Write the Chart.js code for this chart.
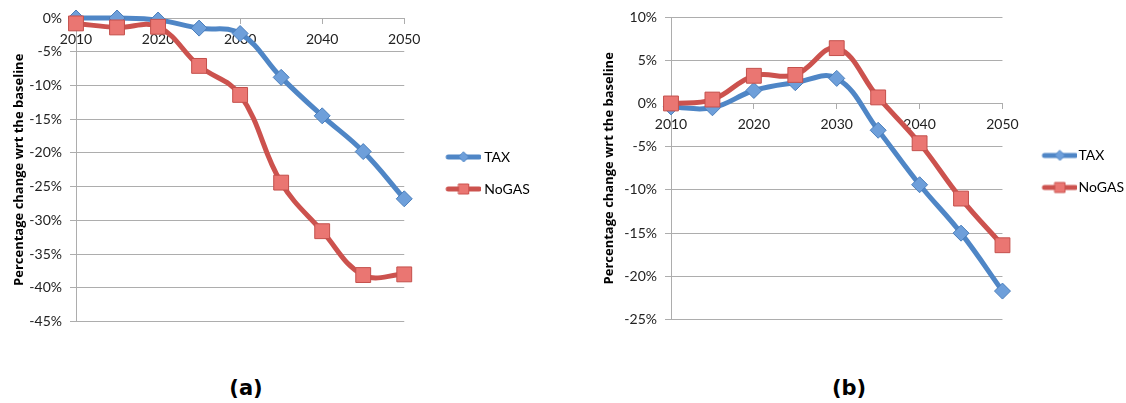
<!DOCTYPE html>
<html>
<head>
<meta charset="utf-8">
<script src="https://cdn.jsdelivr.net/npm/chart.js@4/dist/chart.umd.min.js"></script>
<style>
  body { margin: 0; background: #fff; width: 1126px; height: 403px; position: relative; overflow: hidden; }
  .wrap { position: absolute; top: 0; }
  .cap { position: absolute; font-family: "DejaVu Sans", sans-serif; font-weight: bold; font-size: 21px; color: #000; transform: translate(-50%, -50%); }
</style>
</head>
<body>
<div class="wrap" style="left:0px"><canvas id="chartA" width="539" height="338"></canvas></div>
<div class="wrap" style="left:590px"><canvas id="chartB" width="544" height="336"></canvas></div>
<div class="cap" style="left:246px; top:388px">(a)</div>
<div class="cap" style="left:849px; top:388px">(b)</div>
<script>
// years on the x axis
const years = ['2010', '2015', '2020', '2025', '2030', '2035', '2040', '2045', '2050'];

// panel (a), % change wrt the baseline
const taxA = [0, 0, -0.3, -1.5, -2.3, -8.8, -14.5, -19.8, -26.8];
const noGasA = [-0.8, -1.4, -1.3, -7.1, -11.4, -24.4, -31.6, -38.1, -38.0];

// panel (b)
const taxB = [-0.4, -0.5, 1.5, 2.4, 2.9, -3.1, -9.4, -15.0, -21.7];
const noGasB = [0, 0.45, 3.2, 3.3, 6.4, 0.7, -4.6, -11.0, -16.4];

const blue = '#4F86C6';
const blueFill = '#6E9FDA';
const red = '#CC524E';
const redFill = '#EA7672';
const gridGray = '#ADADAD';
const tickFont = { family: 'Lato', size: 14 };

// legend symbol: line with marker in the middle, left part left empty
function legendIcon(color, fill, shape) {
  const c = document.createElement('canvas');
  c.width = 63; c.height = 16;
  const g = c.getContext('2d');
  g.strokeStyle = color;
  g.lineWidth = 5;
  g.lineCap = 'round';
  g.beginPath(); g.moveTo(30, 8); g.lineTo(61, 8); g.stroke();
  g.fillStyle = fill;
  g.strokeStyle = color;
  g.lineWidth = 1;
  g.beginPath();
  if (shape === 'diamond') {
    g.moveTo(45.5, 3); g.lineTo(50.5, 8); g.lineTo(45.5, 13); g.lineTo(40.5, 8); g.closePath();
  } else {
    g.rect(40.5, 3, 10, 10);
  }
  g.fill(); g.stroke();
  return c;
}
const taxIcon = legendIcon(blue, blueFill, 'diamond');
const gasIcon = legendIcon(red, redFill, 'square');

function makeChart(el, taxData, gasData, yMin, yMax, axisWidth, padTop, boxW) {
  return new Chart(el, {
    type: 'line',
    data: {
      labels: years,
      datasets: [{
        label: 'TAX',
        data: taxData,
        borderColor: blue,
        borderWidth: 5,
        tension: 0.4,
        pointStyle: 'rectRot',
        pointRadius: 8,
        pointBackgroundColor: blueFill,
        pointBorderColor: '#4A7EBB',
        pointBorderWidth: 1,
        clip: false,
        order: 1
      }, {
        label: 'NoGAS',
        data: gasData,
        borderColor: red,
        borderWidth: 5,
        tension: 0.4,
        pointStyle: 'rect',
        pointRadius: 10.5,
        pointBackgroundColor: redFill,
        pointBorderColor: '#C4504C',
        pointBorderWidth: 1,
        clip: false,
        order: 0
      }]
    },
    options: {
      responsive: false,
      animation: false,
      layout: { padding: { top: padTop, bottom: 10, left: 0, right: 0 } },
      plugins: {
        tooltip: { enabled: false },
        legend: {
          position: 'right',
          labels: {
            usePointStyle: true,
            pointStyleWidth: boxW,
            padding: 18,
            color: '#000',
            font: tickFont,
            sort: (a, b) => a.datasetIndex - b.datasetIndex,
            generateLabels: (chart) => [
              { text: 'TAX', pointStyle: taxIcon, datasetIndex: 0, fontColor: '#000', lineWidth: 0 },
              { text: 'NoGAS', pointStyle: gasIcon, datasetIndex: 1, fontColor: '#000', lineWidth: 0 }
            ]
          }
        }
      },
      scales: {
        x: {
          position: { y: 0 },
          offset: false,
          grid: {
            drawOnChartArea: false,
            tickLength: 5,
            color: (ctx) => ctx.index % 2 === 0 ? gridGray : 'rgba(0,0,0,0)'
          },
          border: { color: gridGray },
          ticks: {
            autoSkip: false,
            maxRotation: 0,
            padding: 8,
            color: '#222',
            font: tickFont,
            callback: (v, i) => i % 2 === 0 ? years[i] : ''
          }
        },
        y: {
          min: yMin,
          max: yMax,
          afterFit: (s) => { s.width = axisWidth; },
          grid: { color: gridGray, tickLength: 6 },
          border: { color: gridGray },
          ticks: {
            stepSize: 5,
            padding: 8,
            color: '#222',
            font: tickFont,
            callback: (v) => v + '%'
          },
          title: {
            display: true,
            text: 'Percentage change wrt the baseline',
            color: '#000',
            font: { family: 'Open Sans', size: 13, weight: 'bold' },
            padding: { top: 11, bottom: 0 }
          }
        }
      }
    }
  });
}

makeChart(document.getElementById('chartA'), taxA, noGasA, -45, 0, 76, 18, 55);
makeChart(document.getElementById('chartB'), taxB, noGasB, -25, 10, 81, 17, 51);
</script>
</body>
</html>
